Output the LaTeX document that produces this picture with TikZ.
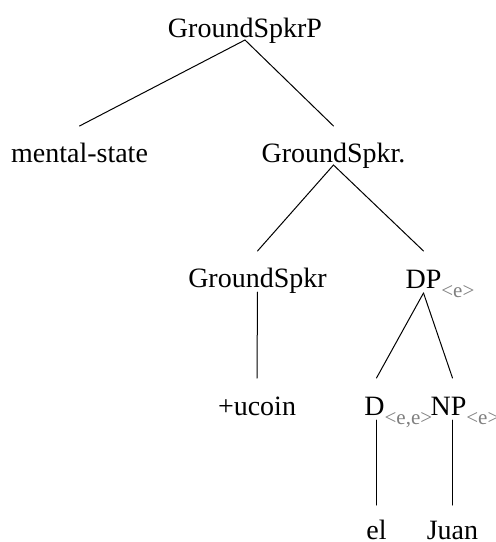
\documentclass[tikz,border=0pt]{standalone}
\usepackage{fontspec}
\setmainfont{Liberation Serif}
\usetikzlibrary{calc}
\begin{document}
\begin{tikzpicture}[x=1pt,y=-1pt,
  lbl/.style={anchor=base,inner sep=0pt,font=\fontsize{28}{30}\selectfont},
  edge/.style={line width=1pt,line cap=round}]
\useasboundingbox (0,0) rectangle (496,542);
\newcommand{\typsub}[1]{\rlap{\raisebox{-9pt}{\fontsize{21}{21}\selectfont\color{black!50}#1}}}
\node[lbl] (root) at (245,37) {GroundSpkrP};
\node[lbl] (ms) at (79.5,162) {mental-state};
\node[lbl] (gsa) at (333.5,162) {GroundSpkr.};
\node[lbl] (gsb) at (257.5,287) {GroundSpkr};
\node[lbl] (dp) at (423.5,288) {DP\typsub{<e>}};
\node[lbl] (uc) at (257,415) {+ucoin};
\node[lbl] (d) at (374.5,415) {D\typsub{<e,e>}};
\node[lbl] (np) at (448.5,415) {NP\typsub{<e>}};
\node[lbl] (el) at (376.5,539) {el};
\node[lbl] (juan) at (452.5,539) {Juan};
\draw[edge] ([yshift=-3pt]root.base) -- ([yshift=36pt]ms.base);
\draw[edge] ([yshift=-3pt]root.base) -- ([yshift=36pt]gsa.base);
\draw[edge] ([yshift=-3pt]gsa.base) -- ([yshift=36pt]gsb.base);
\draw[edge] ([yshift=-3pt]gsa.base) -- ([yshift=37pt]dp.base);
\draw[edge] ([yshift=-5pt]gsb.base) -- ([yshift=37pt]uc.base);
\draw[edge] ([yshift=-5pt]dp.base) -- ($(d.base -| el.base)+(0,-37)$);
\draw[edge] ([yshift=-5pt]dp.base) -- ($(np.base -| juan.base)+(0,-37)$);
\draw[edge] ($(d.base -| el.base)+(0,5)$) -- ([yshift=34pt]el.base);
\draw[edge] ($(np.base -| juan.base)+(0,5)$) -- ([yshift=34pt]juan.base);
\end{tikzpicture}
\end{document}
